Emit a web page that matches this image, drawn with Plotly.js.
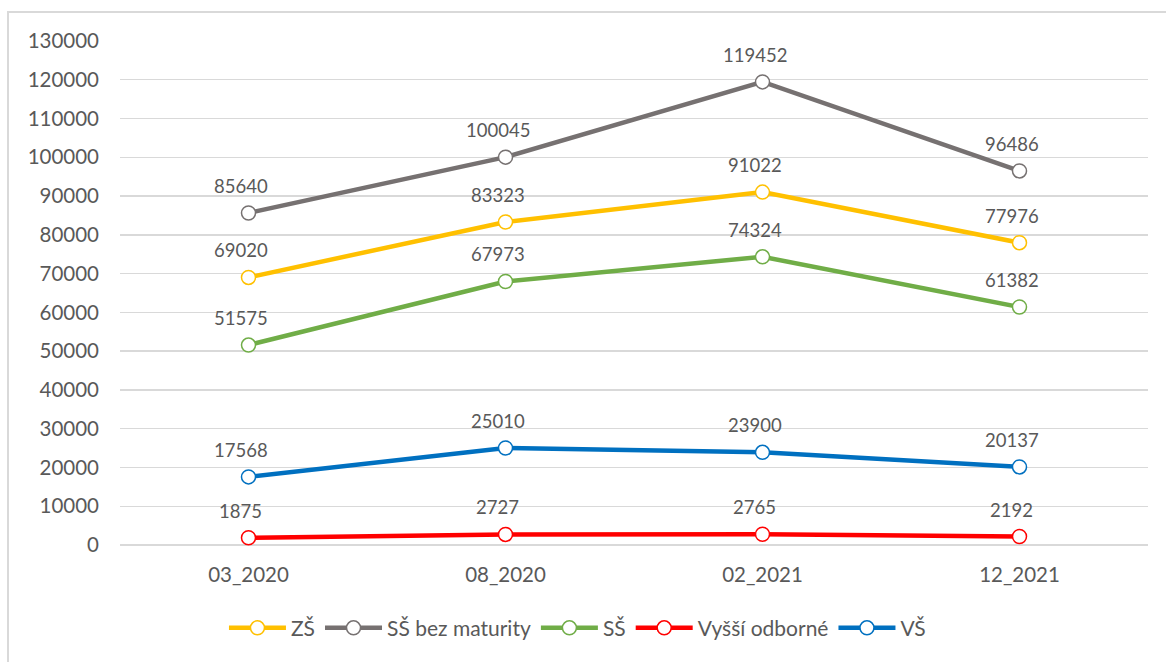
<!DOCTYPE html>
<html>
<head>
<meta charset="utf-8">
<script src="https://cdn.plot.ly/plotly-3.0.1.min.js"></script>
<style>
html,body{margin:0;padding:0;background:#fff;}
#frame{position:absolute;left:7px;top:11px;width:1159px;height:651px;border-left:2px solid #D9D9D9;border-top:2px solid #D9D9D9;box-sizing:border-box;}
#chart{position:absolute;left:0;top:0;width:1166px;height:662px;}
</style>
</head>
<body>
<div id="frame"></div>
<div id="chart"></div>
<script>
const categories = ["03_2020", "08_2020", "02_2021", "12_2021"];
const seriesNames = ["ZŠ", "SŠ bez maturity", "SŠ", "Vyšší odborné", "VŠ"];
const zs = [69020, 83323, 91022, 77976];
const ssBezMaturity = [85640, 100045, 119452, 96486];
const ss = [51575, 67973, 74324, 61382];
const vyssiOdborne = [1875, 2727, 2765, 2192];
const vs = [17568, 25010, 23900, 20137];
const colors = ["#FFC000", "#767171", "#70AD47", "#FF0000", "#0070C0"];
const allValues = [zs, ssBezMaturity, ss, vyssiOdborne, vs];
const yTicks = [0,10000,20000,30000,40000,50000,60000,70000,80000,90000,100000,110000,120000,130000];

const FONT = "Lato, 'Open Sans', sans-serif";
const TXT = "#595959";

const traces = allValues.map((vals, i) => ({
  type: "scatter",
  mode: "lines+markers",
  name: seriesNames[i],
  x: categories,
  y: vals,
  line: {color: colors[i], width: 4.5},
  marker: {symbol: "circle", size: 14, color: "#FFFFFF", line: {color: colors[i], width: 1.5}},
  cliponaxis: false
}));

const annotations = [];
allValues.forEach((vals) => {
  vals.forEach((v, j) => {
    annotations.push({
      x: categories[j], y: v, xref: "x", yref: "y",
      text: String(v), showarrow: false, yshift: 27, xshift: -8,
      font: {family: FONT, size: 18.5, color: TXT}
    });
  });
});

const layout = {
  width: 1166, height: 662,
  paper_bgcolor: "rgba(0,0,0,0)",
  plot_bgcolor: "rgba(0,0,0,0)",
  margin: {l: 120, r: 18, t: 41, b: 117},
  font: {family: FONT, size: 20, color: TXT},
  showlegend: true,
  legend: {
    orientation: "h", x: 0.445, xanchor: "center", y: -0.165, yanchor: "middle",
    font: {family: FONT, size: 21, color: TXT}, itemwidth: 57, traceorder: "normal"
  },
  xaxis: {
    type: "category", range: [-0.5, 3.5], showgrid: false, zeroline: false,
    showline: false, ticks: "", tickfont: {family: FONT, size: 20.5, color: TXT},
    ticklabelstandoff: 15
  },
  yaxis: {
    range: [0, 130000], tickvals: yTicks, ticktext: yTicks.map(String),
    showgrid: true, gridcolor: "#D9D9D9", gridwidth: 1.3, zeroline: true,
    zerolinecolor: "#D9D9D9", zerolinewidth: 1.3, showline: false, ticks: "",
    tickfont: {family: FONT, size: 20.5, color: TXT}, ticklabelstandoff: 20
  },
  annotations: annotations
};

Plotly.newPlot("chart", traces, layout, {displayModeBar: false, staticPlot: true});
</script>
</body>
</html>
